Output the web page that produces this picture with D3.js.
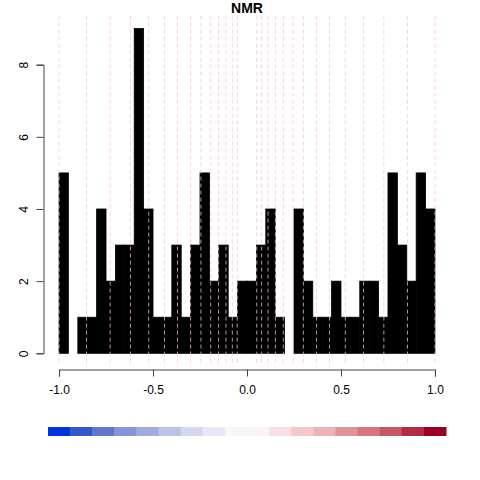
<!DOCTYPE html>
<html>
<head>
<meta charset="utf-8">
<script src="https://cdn.jsdelivr.net/npm/d3@7"></script>
<style>
  body { margin: 0; background: #fff; }
  text { font-family: "Liberation Sans", Arial, sans-serif; }
</style>
</head>
<body>
<div id="chart"></div>
<script>
// histogram counts, 40 bins of width 0.05 from -1 to 1
const counts = [5, 0, 1, 1, 4, 2, 3, 3, 9, 4,
                1, 1, 3, 1, 3, 5, 2, 3, 1, 2,
                2, 3, 4, 1, 0, 4, 2, 1, 1, 2,
                1, 1, 2, 2, 1, 5, 3, 2, 5, 4];
const binStart = -1;
const binWidth = 0.05;

// pink dashed reference lines
const refLines = [-1.0, -0.854, -0.728, -0.620, -0.523, -0.439, -0.370, -0.300, -0.245, -0.193, -0.151, -0.112, -0.078, -0.052,
                  0.052, 0.078, 0.112, 0.151, 0.193, 0.245, 0.300, 0.370, 0.439, 0.523, 0.620, 0.728, 0.854, 1.0];

const xTicks = [-1, -0.5, 0, 0.5, 1];
const xTickLabels = ["-1.0", "-0.5", "0.0", "0.5", "1.0"];
const yTicks = [0, 2, 4, 6, 8];

// colour key below the plot
const palette = ["#0434d2", "#3459c6", "#6276cc", "#8796d4", "#a3abdc", "#bcc2e5", "#d4d7ee", "#e7e8f5", "#f6f6fa",
                 "#fbf3f4", "#f7e0e3", "#f2c8cc", "#ebb3b8", "#df949b", "#d47783", "#c45869", "#b12c46", "#9a0026"];

const width = 480;
const height = 480;

const svg = d3.select("#chart")
  .append("svg")
  .attr("width", width)
  .attr("height", height);

// plot region: x in [-1.08, 1.08], y in [-0.36, 9.36] (R style 4% padding)
const x = d3.scaleLinear().domain([-1.08, 1.08]).range([44, 450]);
const y = d3.scaleLinear().domain([-0.36, 9.36]).range([366.3, 15.6]);

// bars
svg.append("g")
  .selectAll("rect")
  .data(counts)
  .enter()
  .append("rect")
  .attr("x", (d, i) => x(binStart + i * binWidth))
  .attr("y", (d) => y(d))
  .attr("width", (d, i) => x(binStart + (i + 1) * binWidth) - x(binStart + i * binWidth))
  .attr("height", (d) => y(0) - y(d))
  .attr("fill", "#000")
  .attr("stroke", "#000")
  .attr("stroke-width", 0.8);

// dashed lines
svg.append("g")
  .selectAll("line")
  .data(refLines)
  .enter()
  .append("line")
  .attr("x1", (d) => x(d))
  .attr("x2", (d) => x(d))
  .attr("y1", y.range()[1])
  .attr("y2", y.range()[0])
  .attr("stroke", "pink")
  .attr("stroke-opacity", 0.75)
  .attr("stroke-width", 1)
  .attr("stroke-dasharray", "4,3");

// x axis
const xAxisScale = x.copy().domain([-1, 1]).range([x(-1), x(1)]);
const xAxis = svg.append("g")
  .attr("transform", "translate(0, 369.5)")
  .call(d3.axisBottom(xAxisScale)
    .tickValues(xTicks)
    .tickFormat((d, i) => xTickLabels[i])
    .tickSizeOuter(0)
    .tickSize(7)
    .tickPadding(9));
xAxis.selectAll("path, line").attr("stroke", "#444");
xAxis.selectAll("text").style("font-size", "12px").attr("fill", "#000")
  .style("font-family", "'Liberation Sans', Arial, sans-serif");

// y axis
const yAxisScale = y.copy().domain([0, 8]).range([y(0), y(8)]);
const yAxis = svg.append("g")
  .attr("transform", "translate(43.5, 0)")
  .call(d3.axisLeft(yAxisScale)
    .tickValues(yTicks)
    .tickSizeOuter(0)
    .tickSize(7));
yAxis.selectAll("path, line").attr("stroke", "#444");
yAxis.selectAll("text")
  .style("font-size", "12px")
  .style("font-family", "'Liberation Sans', Arial, sans-serif")
  .attr("fill", "#000")
  .attr("text-anchor", "middle")
  .attr("dy", 0)
  .attr("x", 0)
  .attr("transform", "translate(-16, 0) rotate(-90)");

// title
svg.append("text")
  .attr("x", (x.range()[0] + x.range()[1]) / 2)
  .attr("y", 13)
  .attr("text-anchor", "middle")
  .style("font-size", "14px")
  .style("font-weight", "bold")
  .text("NMR");

// colour key
const keyX = d3.scaleBand().domain(d3.range(palette.length)).range([48, 446]);
svg.append("g")
  .selectAll("rect")
  .data(palette)
  .enter()
  .append("rect")
  .attr("x", (d, i) => keyX(i))
  .attr("y", 427)
  .attr("width", keyX.bandwidth() + 0.5)
  .attr("height", 9)
  .attr("fill", (d) => d);
</script>
</body>
</html>
